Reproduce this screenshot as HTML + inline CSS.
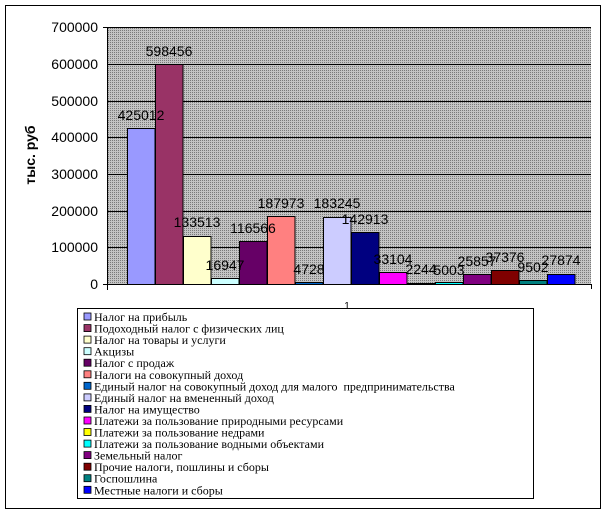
<!DOCTYPE html><html><head><style>body{margin:0;background:#fff}</style></head><body>
<svg width="607" height="514" xmlns="http://www.w3.org/2000/svg" font-family="Liberation Sans, Arial, sans-serif">
<defs>
<pattern id="dots" width="2" height="2" patternUnits="userSpaceOnUse"><rect width="2" height="2" fill="#c4c4c4"/><rect width="1" height="1" fill="#7a7a7a"/></pattern>
</defs>
<rect x="5.5" y="5.5" width="595" height="503" fill="#fff" stroke="#000"/>
<rect x="107" y="27" width="484" height="257" fill="url(#dots)"/>
<g stroke="#000" stroke-width="1">
<line x1="107" y1="27.5" x2="591" y2="27.5"/><line x1="107" y1="64.5" x2="591" y2="64.5"/>
<line x1="107" y1="101.5" x2="591" y2="101.5"/><line x1="107" y1="137.5" x2="591" y2="137.5"/>
<line x1="107" y1="174.5" x2="591" y2="174.5"/><line x1="107" y1="211.5" x2="591" y2="211.5"/>
<line x1="107" y1="247.5" x2="591" y2="247.5"/>
<line x1="107.5" y1="27" x2="107.5" y2="290"/><line x1="103" y1="284.5" x2="591" y2="284.5"/>
<line x1="591.5" y1="284" x2="591.5" y2="289"/>
<line x1="103" y1="27.5" x2="107" y2="27.5"/>
</g>
<g font-size="14" text-anchor="end" fill="#000">
<text x="98" y="32">700000</text><text x="98" y="69">600000</text><text x="98" y="106">500000</text>
<text x="98" y="142">400000</text><text x="98" y="179">300000</text><text x="98" y="216">200000</text>
<text x="98" y="252">100000</text><text x="98" y="289">0</text>
</g>
<text transform="translate(35,155) rotate(-90)" font-size="14" font-weight="bold" text-anchor="middle">тыс. руб</text>
<g stroke="#000" stroke-width="1">
<rect x="127.5" y="128.5" width="27.5" height="156" fill="#9999ff"/>
<rect x="155.5" y="64.5" width="27.5" height="220" fill="#993366"/>
<rect x="183.5" y="236.5" width="27.5" height="48" fill="#ffffcc"/>
<rect x="211.5" y="278.5" width="27.5" height="6" fill="#ccffff"/>
<rect x="239.5" y="241.5" width="27.5" height="43" fill="#660066"/>
<rect x="267.5" y="216.5" width="27.5" height="68" fill="#ff8080"/>
<rect x="295.5" y="282.5" width="27.5" height="2" fill="#0066cc"/>
<rect x="323.5" y="217.5" width="27.5" height="67" fill="#ccccff"/>
<rect x="351.5" y="232.5" width="27.5" height="52" fill="#000080"/>
<rect x="379.5" y="272.5" width="27.5" height="12" fill="#ff00ff"/>
<rect x="407.5" y="283.5" width="27.5" height="1" fill="#ffff00"/>
<rect x="435.5" y="282.5" width="27.5" height="2" fill="#00ffff"/>
<rect x="463.5" y="274.5" width="27.5" height="10" fill="#800080"/>
<rect x="491.5" y="270.5" width="27.5" height="14" fill="#800000"/>
<rect x="519.5" y="280.5" width="27.5" height="4" fill="#008080"/>
<rect x="547.5" y="274.5" width="27.5" height="10" fill="#0000ff"/>
</g>
<g font-size="14" text-anchor="middle" fill="#000">
<text x="141" y="120">425012</text><text x="169" y="56">598456</text>
<text x="197" y="227">133513</text><text x="225" y="270">16947</text>
<text x="253" y="233">116566</text><text x="281" y="208">187973</text>
<text x="309" y="274">4728</text><text x="337" y="208">183245</text>
<text x="365" y="224">142913</text><text x="393" y="264">33104</text>
<text x="421" y="274">2244</text><text x="449" y="275">5003</text>
<text x="477" y="266">25857</text><text x="505" y="262">37376</text>
<text x="533" y="272">9502</text><text x="561" y="265">27874</text>
</g>
<text x="347" y="309" font-size="10" text-anchor="middle">1</text>
<rect x="77.5" y="308.5" width="456" height="190" fill="#fff" stroke="#000"/>
<g font-family="Liberation Serif, Times New Roman, serif" font-size="12" fill="#000">
<g stroke="#000" stroke-width="0.8">
<rect x="84" y="313" width="7" height="7" fill="#9999ff"/>
<rect x="84" y="324.6" width="7" height="7" fill="#993366"/>
<rect x="84" y="336.1" width="7" height="7" fill="#ffffcc"/>
<rect x="84" y="347.7" width="7" height="7" fill="#ccffff"/>
<rect x="84" y="359.2" width="7" height="7" fill="#660066"/>
<rect x="84" y="370.8" width="7" height="7" fill="#ff8080"/>
<rect x="84" y="382.3" width="7" height="7" fill="#0066cc"/>
<rect x="84" y="393.9" width="7" height="7" fill="#ccccff"/>
<rect x="84" y="405.4" width="7" height="7" fill="#000080"/>
<rect x="84" y="417" width="7" height="7" fill="#ff00ff"/>
<rect x="84" y="428.5" width="7" height="7" fill="#ffff00"/>
<rect x="84" y="440.1" width="7" height="7" fill="#00ffff"/>
<rect x="84" y="451.6" width="7" height="7" fill="#800080"/>
<rect x="84" y="463.2" width="7" height="7" fill="#800000"/>
<rect x="84" y="474.7" width="7" height="7" fill="#008080"/>
<rect x="84" y="486.3" width="7" height="7" fill="#0000ff"/>
</g>
<text x="94" y="321">Налог на прибыль</text>
<text x="94" y="332.6">Подоходный налог с физических лиц</text>
<text x="94" y="344.1">Налог на товары и услуги</text>
<text x="94" y="355.7">Акцизы</text>
<text x="94" y="367.2">Налог с продаж</text>
<text x="94" y="378.8">Налоги на совокупный доход</text>
<text x="94" y="390.3" xml:space="preserve">Единый налог на совокупный доход для малого  предпринимательства</text>
<text x="94" y="401.9">Единый налог на вмененный доход</text>
<text x="94" y="413.4">Налог на имущество</text>
<text x="94" y="425">Платежи за пользование природными ресурсами</text>
<text x="94" y="436.5">Платежи за пользование недрами</text>
<text x="94" y="448.1">Платежи за пользование водными объектами</text>
<text x="94" y="459.6">Земельный налог</text>
<text x="94" y="471.2">Прочие налоги, пошлины и сборы</text>
<text x="94" y="482.7">Госпошлина</text>
<text x="94" y="494.3">Местные налоги и сборы</text>
</g>
</svg>
</body></html>
